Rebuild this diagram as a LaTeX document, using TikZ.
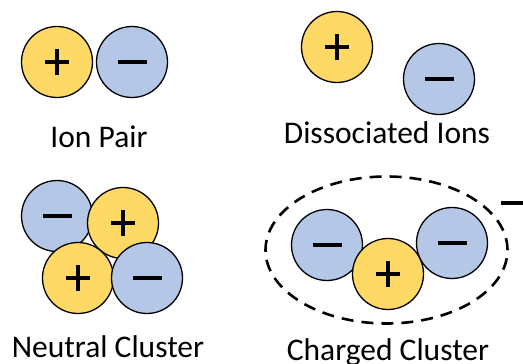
\documentclass[tikz,border=0pt]{standalone}
\usepackage{fontspec}
\setmainfont{Carlito}
\usetikzlibrary{shapes.geometric}
\definecolor{catfill}{HTML}{FFD966}
\definecolor{anfill}{HTML}{B4C7E7}
\tikzset{
  x=1pt, y=-1pt,
  ion/.style={circle, draw=black, line width=1.3pt, minimum size=71pt, inner sep=0pt},
  cation/.style={ion, fill=catfill, path picture={
      \draw[line width=3.8pt] ([xshift=-12pt]path picture bounding box.center) -- ([xshift=12pt]path picture bounding box.center);
      \draw[line width=3.8pt] ([yshift=-13pt]path picture bounding box.center) -- ([yshift=13pt]path picture bounding box.center);}},
  anion/.style={ion, fill=anfill, path picture={
      \draw[line width=3.8pt] ([xshift=-14.5pt]path picture bounding box.center) -- ([xshift=14.5pt]path picture bounding box.center);}},
  caption/.style={anchor=base, font=\fontsize{31.5}{36}\selectfont, inner sep=0pt},
  shell/.style={ellipse, draw=black, line width=2.6pt, dash pattern=on 12pt off 8pt, inner sep=0pt}
}
\begin{document}
\begin{tikzpicture}
\useasboundingbox (0,0) rectangle (523,364);
\clip (0,0) rectangle (523,364);

% ion pair
\node[cation] (ipp) at (57,62) {};
\node[anion]  (ipm) at (132,62) {};
\node[caption] (iplab) at (99,147) {Ion Pair};

% dissociated ions
\node[cation] (dp) at (337,47) {};
\node[anion]  (dm) at (439,79) {};
\node[caption] (dlab) at (387,143.5) {Dissociated Ions};

% neutral cluster
\node[anion]  (nm1) at (57,216) {};
\node[cation] (np1) at (123,223) {};
\node[cation] (np2) at (78,278) {};
\node[anion]  (nm2) at (147,278) {};
\node[caption] (nlab) at (108,357) {Neutral Cluster};

% charged cluster with its dashed shell and net charge
\node[shell, minimum width=242pt, minimum height=147pt] (shell) at (386.5,250) {};
\node[anion]  (cm1) at (327,245) {};
\node[cation] (cp)  at (388,274) {};
\node[anion]  (cm2) at (452,243) {};
\coordinate (netl) at (501,203);
\coordinate (netr) at (530,203);
\draw[line width=3.8pt] (netl) -- (netr);
\node[caption] (clab) at (388,360) {Charged Cluster};
\end{tikzpicture}
\end{document}
